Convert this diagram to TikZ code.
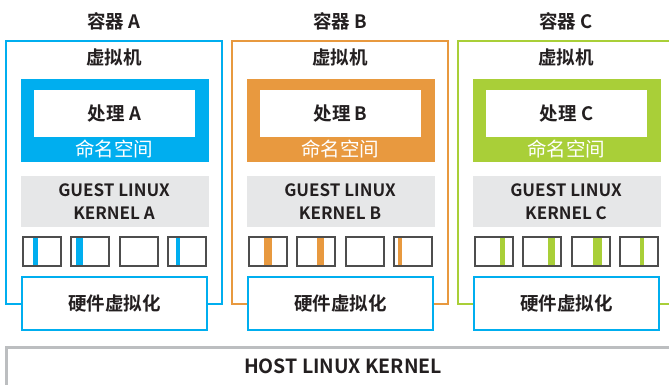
\documentclass[tikz,border=0pt]{standalone}
\usepackage{fontspec}
\setmainfont{Noto Sans CJK SC}[BoldFont=* Bold]
\definecolor{cblue}{HTML}{00AEEF}
\definecolor{corange}{HTML}{E8993F}
\definecolor{cgreen}{HTML}{A9CF38}
\definecolor{kgray}{HTML}{E6E7E8}
\definecolor{hgray}{HTML}{BCBEC0}
\definecolor{txt}{HTML}{231F20}
\definecolor{sboxc}{HTML}{4D4D4D}
\tikzset{
  plain/.style={inner sep=0pt, outer sep=0pt, anchor=north west},
  contbox/.style={plain, draw=#1, line width=1.5pt, minimum width=216pt, minimum height=263pt},
  nsbox/.style={plain, fill=#1, minimum width=188pt, minimum height=83pt},
  procbox/.style={plain, fill=white, minimum width=161pt, minimum height=47pt},
  kernbox/.style={plain, fill=kgray, minimum width=188pt, minimum height=51pt},
  smallbox/.style={plain, draw=sboxc, line width=1.2pt, minimum width=38pt, minimum height=29pt},
  hwbox/.style={plain, draw=cblue, fill=white, line width=2pt, minimum width=185pt, minimum height=53pt},
  lbl/.style={inner sep=0pt, text=txt, font=\bfseries\fontsize{18.5}{22}\selectfont},
  nslbl/.style={inner sep=0pt, text=white, font=\fontsize{19.5}{22}\selectfont},
  klbl/.style={inner sep=0pt, text=txt, align=center, font=\bfseries\fontsize{17}{23}\selectfont},
}
\newcommand\drawcontainer[4]{%
\begin{scope}[xshift=#1pt]
  \node[contbox=#3] (cont#2) at (0,41) {};
  \node[lbl] (title#2) at (108,21) {容器 #2};
  \node[lbl] (vm#2) at (108,57) {虚拟机};
  \node[nsbox=#3] (ns#2) at (15,79) {};
  \node[procbox] (proc#2) at (28,90) {};
  \node[lbl] (proclbl#2) at (108.5,114) {处理 #2};
  \node[nslbl] (nslbl#2) at (108,149) {命名空间};
  \node[kernbox] (kern#2) at (15,176) {};
  \node[klbl] (kernlbl#2) at (108,201.5) {GUEST LINUX\\KERNEL #2};
  \foreach \bx/\bw in {#4} \fill[#3] (\bx,237) rectangle ++(\bw,29);
  \foreach \i/\sx in {1/17,2/65,3/114,4/162} \node[smallbox] (sb#2\i) at (\sx,237) {};
  \node[hwbox] (hw#2) at (16,277) {};
  \node[lbl] (hwlbl#2) at (108.5,303) {硬件虚拟化};
\end{scope}}
\begin{document}
\begin{tikzpicture}[x=1pt,y=-1pt]
\useasboundingbox (0,0) rectangle (669,384);
\clip (0,0) rectangle (669,384);
\drawcontainer{6}{A}{cblue}{27/4.5,70/7,170/4}
\drawcontainer{232}{B}{corange}{32/8,85/7,166/4}
\drawcontainer{458}{C}{cgreen}{42/5,90/7,135/9,182/4}
\node[plain, draw=hgray, line width=3pt, minimum width=690pt, minimum height=60pt] (host) at (6,347) {};
\node[inner sep=0pt, text=txt, font=\bfseries\fontsize{19.5}{22}\selectfont] (hostlbl) at (343,366.5) {HOST LINUX KERNEL};
\end{tikzpicture}
\end{document}
